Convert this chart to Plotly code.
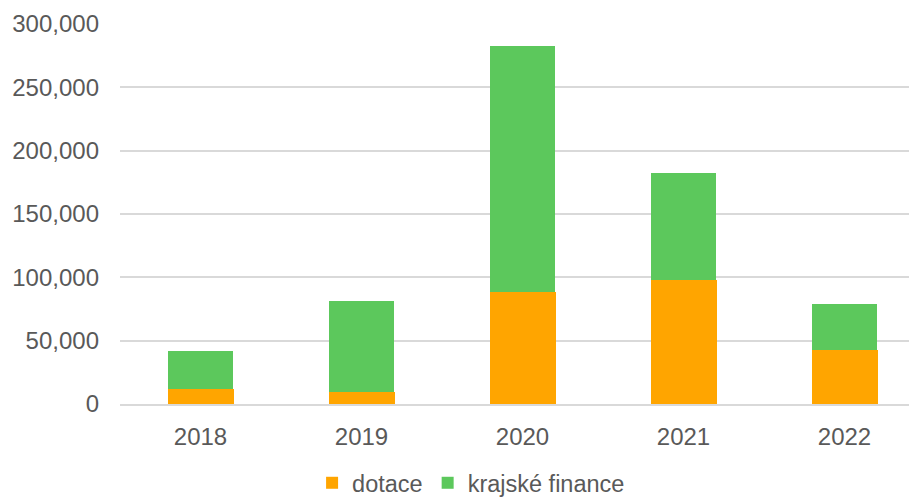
import plotly.graph_objects as go

years = ["2018", "2019", "2020", "2021", "2022"]
dotace = [11700, 9300, 88300, 98000, 42900]
krajske_finance = [30200, 72200, 194000, 84500, 36200]
y_ticks = [0, 50000, 100000, 150000, 200000, 250000, 300000]

FONT = "Liberation Sans, Arial, sans-serif"
TXT = "#595959"

fig = go.Figure()
fig.add_trace(go.Bar(x=years, y=dotace, name="dotace", marker_color="#FFA500",
                     width=0.41, marker_line_width=0))
fig.add_trace(go.Bar(x=years, y=krajske_finance, name="krajské finance",
                     marker_color="#5CC85C", width=0.40, marker_line_width=0))

fig.update_layout(
    barmode="stack",
    width=917, height=497,
    margin=dict(l=112, r=0, t=16, b=100.5, autoexpand=False),
    plot_bgcolor="white", paper_bgcolor="white",
    font=dict(family=FONT, size=24, color=TXT),
    showlegend=True,
    legend=dict(orientation="h", x=0.505, xref="container", xanchor="center",
                y=0.0, yref="container", yanchor="bottom",
                font=dict(size=23.5, color=TXT), itemwidth=30,
                traceorder="normal", tracegroupgap=0, itemclick=False),
    xaxis=dict(type="category", range=[-0.5, 4.5], showgrid=False,
               showline=True, linecolor="#D9D9D9", linewidth=1.5,
               ticks="", ticklabelstandoff=10, automargin=False,
               tickfont=dict(size=24, color=TXT)),
    yaxis=dict(range=[0, 300000], tickvals=y_ticks, tickformat=",",
               showgrid=True, gridcolor="#D9D9D9", gridwidth=1.5,
               zeroline=False, showline=False, ticks="",
               ticklabelstandoff=20, automargin=False,
               tickfont=dict(size=24, color=TXT)),
)

fig.write_html("out.html")
